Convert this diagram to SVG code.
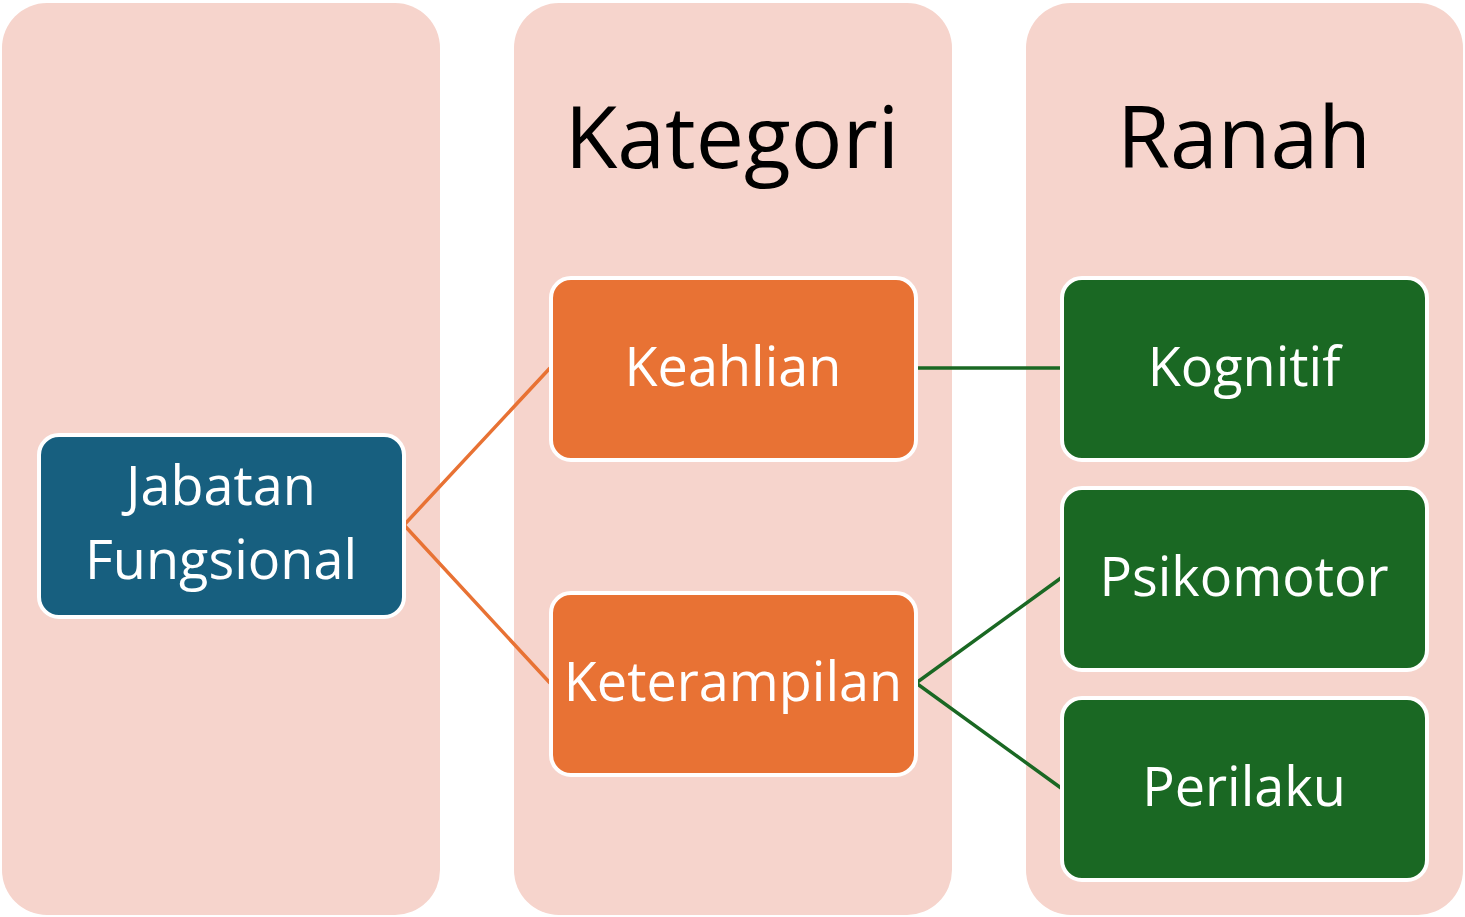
<svg xmlns="http://www.w3.org/2000/svg" width="1465" height="917" viewBox="0 0 1465 917">
<style>
.col{fill:#F6D4CC}
.node{stroke:#FFFFFF;stroke-width:4}
.blue{fill:#175F7F}
.orange{fill:#E87234}
.green{fill:#1A6823}
.t{font-family:"Open Sans","Noto Sans",sans-serif;fill:#FFFFFF;font-size:54px;text-anchor:middle}
.h{font-family:"Open Sans","Noto Sans",sans-serif;fill:#000000;font-size:86px;text-anchor:middle}
.lo{stroke:#E87234;stroke-width:3.5;fill:none}
.lg{stroke:#1A6823;stroke-width:3.5;fill:none}
</style>
<g id="columns">
<rect class="col" x="2" y="3" width="438" height="912" rx="45"/>
<rect class="col" x="514" y="3" width="438" height="912" rx="45"/>
<rect class="col" x="1026" y="3" width="437" height="912" rx="45"/>
<text class="h" x="732" y="168">Kategori</text>
<text class="h" x="1244" y="168">Ranah</text>
</g>
<g id="connectors">
<polyline class="lo" points="550,368 404,525 550,683"/>
<line class="lg" x1="916" y1="368" x2="1061" y2="368"/>
<polyline class="lg" points="1061,578 916,683 1061,788"/>
</g>
<g id="jabatan">
<rect class="node blue" x="39" y="435" width="365" height="182" rx="20"/>
<text class="t" x="221" y="505">Jabatan</text>
<text class="t" x="221" y="579">Fungsional</text>
</g>
<g id="keahlian">
<rect class="node orange" x="551" y="278" width="365" height="182" rx="20"/>
<text class="t" x="733" y="386">Keahlian</text>
</g>
<g id="keterampilan">
<rect class="node orange" x="551" y="593" width="365" height="182" rx="20"/>
<text class="t" x="733" y="701">Keterampilan</text>
</g>
<g id="kognitif">
<rect class="node green" x="1062" y="278" width="365" height="182" rx="20"/>
<text class="t" x="1244" y="386">Kognitif</text>
</g>
<g id="psikomotor">
<rect class="node green" x="1062" y="488" width="365" height="182" rx="20"/>
<text class="t" x="1244" y="596">Psikomotor</text>
</g>
<g id="perilaku">
<rect class="node green" x="1062" y="698" width="365" height="182" rx="20"/>
<text class="t" x="1244" y="806">Perilaku</text>
</g>
</svg>
